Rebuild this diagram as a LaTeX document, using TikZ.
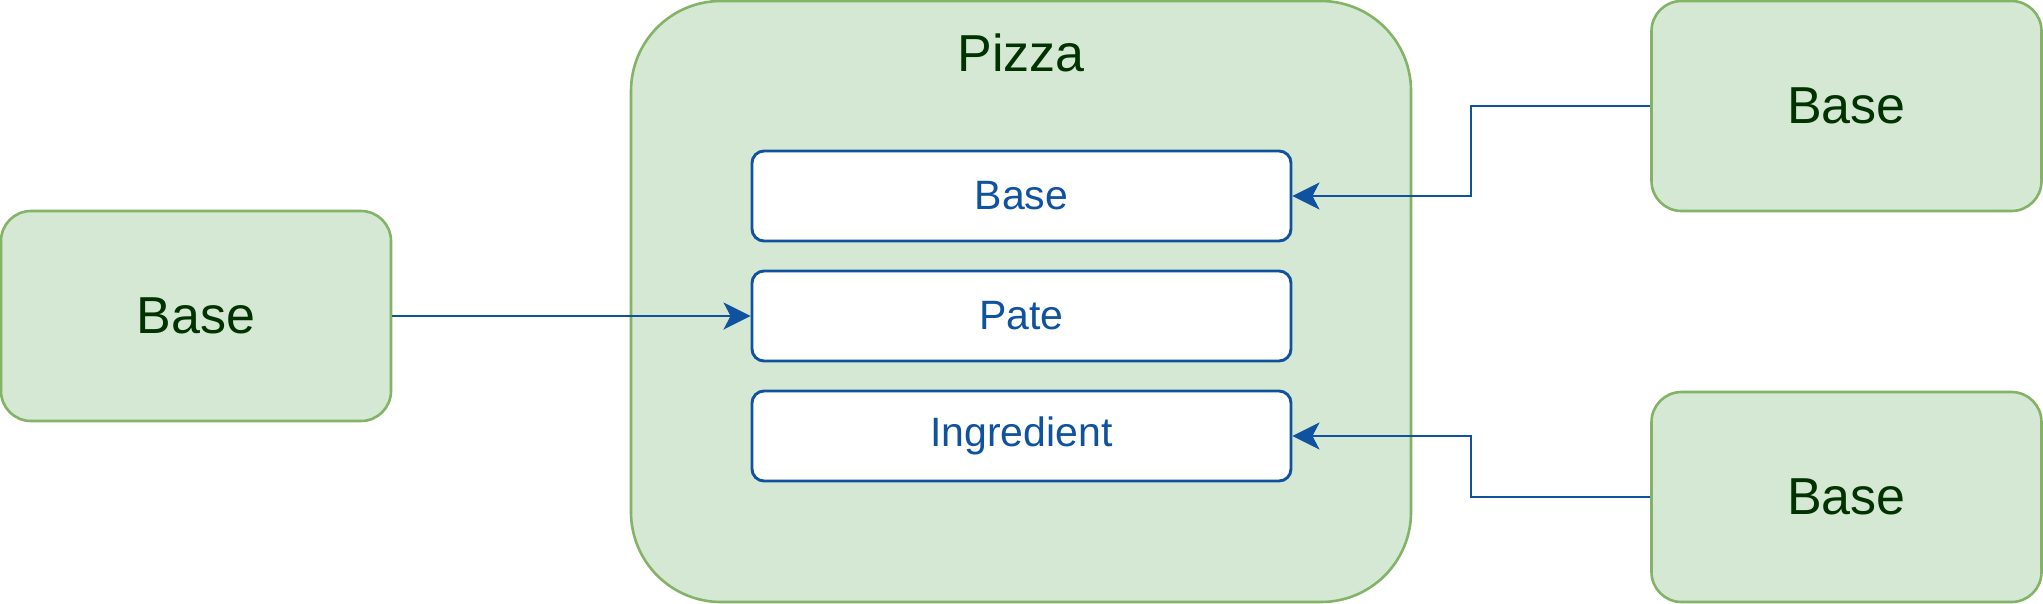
\documentclass[tikz,border=0pt]{standalone}
\usepackage{fontspec}
\setmainfont{Liberation Sans}
\usetikzlibrary{arrows.meta}
\definecolor{gfill}{HTML}{D5E8D4}
\definecolor{gdraw}{HTML}{82B366}
\definecolor{gtext}{HTML}{003300}
\definecolor{bdraw}{HTML}{0F52A0}
\tikzset{
  greenbox/.style={draw=gdraw, fill=gfill, line width=2.6pt, rounded corners=30pt,
    minimum width=390pt, minimum height=210pt, inner sep=0pt, text=gtext,
    font=\fontsize{52}{60}\selectfont},
  bigbox/.style={draw=gdraw, fill=gfill, line width=2.6pt, rounded corners=90pt,
    minimum width=780pt, minimum height=601pt, inner sep=0pt},
  titletext/.style={text=gtext, font=\fontsize{52}{60}\selectfont, inner sep=0pt},
  fieldbox/.style={draw=bdraw, fill=white, line width=2.9pt, rounded corners=12pt,
    minimum width=539pt, minimum height=90pt, inner sep=0pt, text=bdraw,
    font=\fontsize{41}{48}\selectfont},
  conn/.style={draw=bdraw, line width=2.9pt,
    -{Stealth[length=27pt, width=27pt, inset=7pt, fill=bdraw]}}
}
\begin{document}
\begin{tikzpicture}[x=1pt,y=-1pt]
\useasboundingbox (0,0) rectangle (2043,603);
\node[bigbox] (pizza) at (1021,301.5) {};
\node[titletext] (title) at (1021,53) {Pizza};
\node[fieldbox] (fbase) at (1021.5,196) {Base};
\node[fieldbox] (fpate) at (1021.5,316) {Pate};
\node[fieldbox] (fing) at (1021.5,436) {Ingredient};
\node[greenbox] (lbase) at (196,316) {Base};
\node[greenbox] (rtbase) at (1846.5,106) {Base};
\node[greenbox] (rbbase) at (1846.5,497) {Base};
\coordinate (c1) at (1471,106);
\coordinate (c2) at (1471,497);
\draw[conn] (lbase.east) -- (fpate.west);
\draw[conn] (rtbase.west) -- (c1) |- (fbase.east);
\draw[conn] (rbbase.west) -- (c2) |- (fing.east);
\end{tikzpicture}
\end{document}
